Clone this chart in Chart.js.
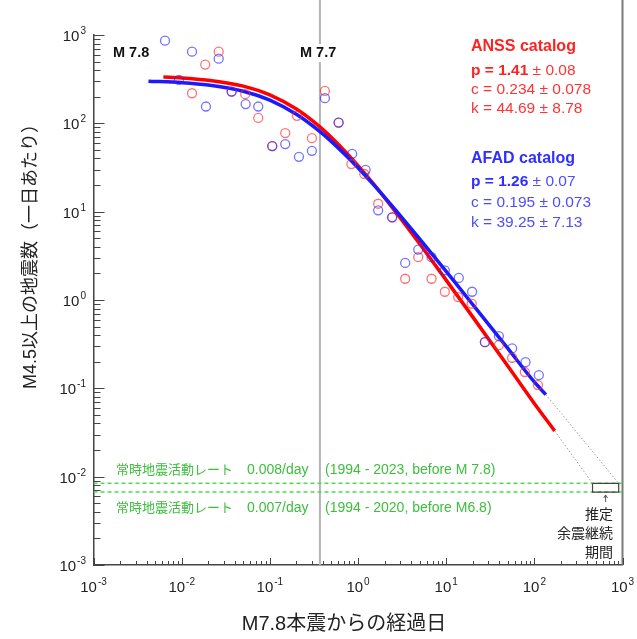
<!DOCTYPE html>
<html lang="ja">
<head>
<meta charset="UTF-8">
<title>M7.8 余震の減衰</title>
<script src="https://cdn.jsdelivr.net/npm/chart.js@4"></script>
<style>
  body { margin: 0; background: #fff; }
  #wrap { width: 637px; height: 639px; }
</style>
</head>
<body>
<div id="wrap"><canvas id="chart" width="637" height="639"></canvas></div>
<script>
// decades shown on both axes (10^-3 .. 10^3)
const decades = [-3, -2, -1, 0, 1, 2, 3];

// ANSS catalog (red circles): days after M7.8, events per day
const anssDays = [0.0131, 0.0185, 0.0263, 0.0369, 0.0526, 0.0739, 0.1065, 0.1495, 0.203, 0.300, 0.4214, 0.6026, 0.841, 1.18, 1.694, 2.44, 3.43, 4.82, 6.83, 9.66, 13.7, 19.5, 27.5, 39.6, 56, 78, 110];
const anssRate = [219, 462, 648, 229, 214, 115, 55.3, 77.5, 121.6, 68, 233, 102, 34.6, 26.7, 12.3, 8.62, 1.74, 3.05, 1.74, 1.24, 1.08, 0.912, 0.333, 0.308, 0.222, 0.153, 0.109];

// AFAD catalog (blue circles)
const afadDays = [0.00647, 0.00932, 0.0131, 0.01886, 0.0263, 0.0369, 0.0532, 0.0739, 0.1065, 0.1495, 0.2138, 0.300, 0.4214, 0.6026, 0.859, 1.219, 1.694, 2.44, 3.43, 4.82, 6.83, 9.66, 13.9, 19.7, 27.5, 39.6, 56, 79.4, 112.5];
const afadRate = [862, 310, 648, 155, 540, 229, 165, 155, 55.3, 58.2, 41.8, 48.9, 192.6, 102, 45.2, 29.8, 10.35, 8.62, 2.63, 3.72, 3.05, 2.17, 1.78, 1.24, 0.333, 0.390, 0.283, 0.198, 0.141];

// fitted Omori curves
const anssFitDays = [0.0062, 0.01, 0.02, 0.05, 0.1, 0.2, 0.35, 0.5, 0.75, 1, 1.5, 2, 3, 5, 10, 20, 50, 100, 170];
const anssFitRate = [334, 327, 308, 264, 210, 145, 95.4, 69.1, 45.7, 33.2, 20.6, 14.4, 8.54, 4.33, 1.68, 0.644, 0.179, 0.0674, 0.033];
const afadFitDays = [0.0042, 0.01, 0.02, 0.05, 0.1, 0.2, 0.35, 0.5, 0.75, 1, 1.5, 2, 3, 5, 10, 20, 50, 100, 135];
const afadFitRate = [300, 289, 272, 231, 183, 126.5, 84.3, 62.1, 42.1, 31.4, 20.2, 14.6, 9.08, 4.92, 2.11, 0.890, 0.283, 0.118, 0.085];

// dotted extrapolation to the background rate
const anssExtDays = [170, 457];
const anssExtRate = [0.033, 0.0084];
const afadExtDays = [135, 905];
const afadExtRate = [0.085, 0.0084];

// background seismicity rates (drawn levels) and estimated duration box
const bgRates = [0.0084, 0.0067];
const bgSpan = [1e-3, 1e3];
const boxDays = [457, 905];
const m77Day = 0.37;

const FONT = '"Liberation Sans", Arial, "Noto Sans CJK JP", sans-serif';

function pts(xs, ys) {
  return xs.map((x, i) => ({ x: x, y: ys[i] }));
}

function boxPts() {
  return [
    { x: boxDays[0], y: bgRates[0] }, { x: boxDays[1], y: bgRates[0] },
    { x: boxDays[1], y: bgRates[1] }, { x: boxDays[0], y: bgRates[1] },
    { x: boxDays[0], y: bgRates[0] }
  ];
}

// background lines, vertical M7.7 line and right frame go under the data
const underlay = {
  id: 'underlay',
  beforeDatasetsDraw(chart) {
    const { ctx, chartArea: a, scales: { x } } = chart;
    ctx.save();
    ctx.strokeStyle = '#b4b4b4';
    ctx.lineWidth = 2;
    const vx = x.getPixelForValue(m77Day);
    ctx.beginPath();
    ctx.moveTo(vx, 0);
    ctx.lineTo(vx, a.bottom);
    ctx.stroke();
    ctx.strokeStyle = '#7a7a7a';
    ctx.beginPath();
    ctx.moveTo(a.right, 0);
    ctx.lineTo(a.right, a.bottom);
    ctx.stroke();
    ctx.restore();
  }
};

function pow10(ctx, e, x, y, align) {
  const base = '10';
  const sup = e < 0 ? '-' + (-e) : String(e);
  ctx.font = '15px ' + FONT;
  const wb = ctx.measureText(base).width;
  ctx.font = '10px ' + FONT;
  const ws = ctx.measureText(sup).width;
  const total = wb + ws + 1;
  const left = align === 'center' ? x - total / 2 : x - total;
  ctx.textAlign = 'left';
  ctx.textBaseline = 'alphabetic';
  ctx.font = '15px ' + FONT;
  ctx.fillText(base, left, y + 6);
  ctx.font = '10px ' + FONT;
  ctx.fillText(sup, left + wb + 1, y - 1);
}

function txt(ctx, s, x, y, font, color, align) {
  ctx.font = font;
  ctx.fillStyle = color;
  ctx.textAlign = align || 'left';
  ctx.textBaseline = 'middle';
  ctx.fillText(s, x, y);
  return ctx.measureText(s).width;
}

const overlay = {
  id: 'overlay',
  afterDraw(chart) {
    const { ctx, chartArea: a, scales: { x, y } } = chart;
    ctx.save();

    // inward log ticks
    ctx.strokeStyle = '#444';
    ctx.lineWidth = 1;
    decades.forEach(d => {
      for (let m = 1; m <= 9; m++) {
        if (d === 3 && m > 1) break;
        const v = m * Math.pow(10, d);
        const px = Math.round(x.getPixelForValue(v)) + 0.5;
        const py = Math.round(y.getPixelForValue(v)) + 0.5;
        ctx.beginPath();
        ctx.moveTo(px, a.bottom);
        ctx.lineTo(px, a.bottom - (m === 1 ? 7 : 4));
        ctx.moveTo(a.left, py);
        ctx.lineTo(a.left + (m === 1 ? 11 : 7), py);
        ctx.stroke();
      }
    });

    // tick labels
    ctx.fillStyle = '#222';
    decades.forEach(d => {
      pow10(ctx, d, x.getPixelForValue(Math.pow(10, d)), 586, 'center');
      pow10(ctx, d, 86, y.getPixelForValue(Math.pow(10, d)), 'right');
    });

    // axis titles
    txt(ctx, 'M7.8本震からの経過日', 344, 624, '20px ' + FONT, '#222', 'center');
    ctx.save();
    ctx.translate(31, 252);
    ctx.rotate(-Math.PI / 2);
    txt(ctx, 'M4.5以上の地震数（一日あたり）', 0, 0, '18px ' + FONT, '#222', 'center');
    ctx.restore();

    // mainshock labels
    txt(ctx, 'M 7.8', 113, 53, 'bold 14.5px ' + FONT, '#111');
    ctx.font = 'bold 14.5px ' + FONT;
    const w77 = ctx.measureText('M 7.7').width;
    ctx.fillStyle = '#fff';
    ctx.fillRect(299, 44, w77 + 2, 18);
    txt(ctx, 'M 7.7', 300, 53, 'bold 14.5px ' + FONT, '#111');

    // ANSS parameters
    const red = '#ff2222';
    txt(ctx, 'ANSS catalog', 471, 47, 'bold 16px ' + FONT, red);
    let w = txt(ctx, 'p = 1.41', 471, 71, 'bold 15.5px ' + FONT, red);
    txt(ctx, ' ± 0.08', 471 + w, 71, '15.5px ' + FONT, '#ff3333');
    txt(ctx, 'c = 0.234 ± 0.078', 471, 90, '15.5px ' + FONT, '#ff3333');
    txt(ctx, 'k = 44.69 ± 8.78', 471, 109, '15.5px ' + FONT, '#ff3333');

    // AFAD parameters
    const blue = '#2f2fff';
    txt(ctx, 'AFAD catalog', 471, 159, 'bold 16px ' + FONT, blue);
    w = txt(ctx, 'p = 1.26', 471, 182, 'bold 15.5px ' + FONT, blue);
    txt(ctx, ' ± 0.07', 471 + w, 182, '15.5px ' + FONT, '#4d4dff');
    txt(ctx, 'c = 0.195 ± 0.073', 471, 203, '15.5px ' + FONT, '#4d4dff');
    txt(ctx, 'k = 39.25 ± 7.13', 471, 223, '15.5px ' + FONT, '#4d4dff');

    // background rate notes
    const green = '#3cbf3c';
    txt(ctx, '常時地震活動レート', 116, 470, '13px ' + FONT, green);
    txt(ctx, '0.008/day', 247, 470, '14px ' + FONT, green);
    txt(ctx, '(1994 - 2023, before M 7.8)', 325, 470, '14px ' + FONT, green);
    txt(ctx, '常時地震活動レート', 116, 508, '13px ' + FONT, green);
    txt(ctx, '0.007/day', 247, 508, '14px ' + FONT, green);
    txt(ctx, '(1994 - 2020, before M6.8)', 325, 508, '14px ' + FONT, green);

    // estimated duration note
    const bx = (x.getPixelForValue(boxDays[0]) + x.getPixelForValue(boxDays[1])) / 2;
    const by = y.getPixelForValue(bgRates[1]);
    ctx.strokeStyle = '#555';
    ctx.lineWidth = 1;
    ctx.beginPath();
    ctx.moveTo(bx, by + 10);
    ctx.lineTo(bx, by + 3);
    ctx.moveTo(bx - 2, by + 6);
    ctx.lineTo(bx, by + 3);
    ctx.lineTo(bx + 2, by + 6);
    ctx.stroke();
    txt(ctx, '推定', 613, 515, '14px ' + FONT, '#222', 'right');
    txt(ctx, '余震継続', 613, 534, '14px ' + FONT, '#222', 'right');
    txt(ctx, '期間', 613, 553, '14px ' + FONT, '#222', 'right');

    ctx.restore();
  }
};

const lineDs = (data, color, width, order, dash) => ({
  data: data,
  showLine: true,
  borderColor: color,
  borderWidth: width,
  borderDash: dash || [],
  pointRadius: 0,
  fill: false,
  order: order
});

new Chart(document.getElementById('chart').getContext('2d'), {
  type: 'scatter',
  data: {
    datasets: [
      {
        data: pts(afadDays, afadRate),
        pointStyle: 'circle',
        pointRadius: 4.5,
        borderWidth: 1.3,
        borderColor: 'rgba(40, 40, 255, 0.65)',
        backgroundColor: 'rgba(0, 0, 0, 0)',
        order: 0
      },
      {
        data: pts(anssDays, anssRate),
        pointStyle: 'circle',
        pointRadius: 4.5,
        borderWidth: 1.3,
        borderColor: 'rgba(255, 40, 40, 0.65)',
        backgroundColor: 'rgba(0, 0, 0, 0)',
        order: 1
      },
      Object.assign(lineDs(pts(afadFitDays, afadFitRate), '#1a1aff', 3.5, 2), { tension: 0.4, cubicInterpolationMode: 'monotone' }),
      Object.assign(lineDs(pts(anssFitDays, anssFitRate), '#ff0000', 3.5, 3), { tension: 0.4, cubicInterpolationMode: 'monotone' }),
      lineDs(pts(afadExtDays, afadExtRate), '#9a9a9a', 1, 4, [1.5, 2]),
      lineDs(pts(anssExtDays, anssExtRate), '#9a9a9a', 1, 4, [1.5, 2]),
      lineDs(boxPts(), '#444', 1.2, 4),
      lineDs(pts(bgSpan, [bgRates[0], bgRates[0]]), '#4ddd4d', 1.5, 5, [4, 3]),
      lineDs(pts(bgSpan, [bgRates[1], bgRates[1]]), '#4ddd4d', 1.5, 5, [4, 3])
    ]
  },
  options: {
    responsive: false,
    animation: false,
    devicePixelRatio: 1,
    layout: { padding: { left: 93.5, right: 14.5, top: 35, bottom: 74 } },
    plugins: {
      legend: { display: false },
      tooltip: { enabled: false }
    },
    scales: {
      x: {
        type: 'logarithmic',
        min: 1e-3,
        max: 1e3,
        grid: { display: false },
        ticks: { display: false },
        border: { display: true, color: '#444', width: 1.5 },
        afterFit(s) { s.height = 0; }
      },
      y: {
        type: 'logarithmic',
        min: 1e-3,
        max: 1e3,
        grid: { display: false },
        ticks: { display: false },
        border: { display: true, color: '#444', width: 1.5 },
        afterFit(s) { s.width = 0; }
      }
    }
  },
  plugins: [underlay, overlay]
});
</script>
</body>
</html>
